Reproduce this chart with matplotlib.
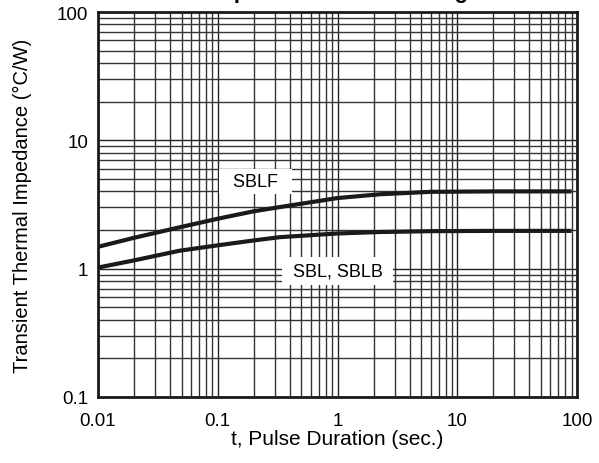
import numpy as np
import matplotlib.pyplot as plt

plt.rcParams['font.family'] = ['Liberation Sans', 'DejaVu Sans']

# pulse duration (s) and impedance (C/W)
t_sblf = [0.01, 0.02, 0.048, 0.1, 0.2, 0.33, 1.0, 2.26, 6.0, 20.0, 90.0]
z_sblf = [1.48, 1.74, 2.1, 2.45, 2.8, 3.02, 3.55, 3.8, 3.97, 4.0, 4.0]

t_sbl = [0.01, 0.02, 0.048, 0.1, 0.2, 0.33, 1.0, 2.26, 6.0, 20.0, 90.0]
z_sbl = [1.02, 1.16, 1.38, 1.52, 1.66, 1.76, 1.88, 1.93, 1.96, 1.97, 1.97]

xticks = [0.01, 0.1, 1, 10, 100]
xlabels = ['0.01', '0.1', '1', '10', '100']
yticks = [0.1, 1, 10, 100]
ylabels = ['0.1', '1', '10', '100']

fig = plt.figure(figsize=(5.99, 4.64), dpi=100)
ax = fig.add_axes([98/599, 1-398/464, 479/599, 385/464])
ax.set_xscale('log')
ax.set_yscale('log')
ax.set_xlim(0.01, 100)
ax.set_ylim(0.1, 100)

# grid: every 1..9 line in each decade
for d in range(-2, 2):
    for k in range(1, 10):
        v = k * 10.0**d
        ax.axvline(v, color='#222222' if k == 1 else '#333333', lw=1.0, zorder=1)
for d in range(-1, 2):
    for k in range(1, 10):
        v = k * 10.0**d
        ax.axhline(v, color='#222222' if k == 1 else '#333333', lw=1.0, zorder=1)

ax.plot(t_sblf, z_sblf, color='#1a1a1a', lw=3, zorder=3, solid_capstyle='butt')
ax.plot(t_sbl, z_sbl, color='#1a1a1a', lw=3, zorder=3, solid_capstyle='butt')

ax.text(0.208, 4.8, '  SBLF  ', fontsize=13, ha='center', va='center', zorder=4,
        bbox=dict(facecolor='white', edgecolor='none', pad=3))
ax.text(1.0, 0.96, ' SBL, SBLB ', fontsize=13, ha='center', va='center', zorder=4,
        bbox=dict(facecolor='white', edgecolor='none', pad=4))

ax.set_xticks(xticks)
ax.set_xticklabels(xlabels)
ax.set_yticks(yticks)
ax.set_yticklabels(ylabels)
ax.minorticks_off()
ax.tick_params(length=0, labelsize=13.5)
ax.tick_params(axis='x', pad=10.5)
ax.tick_params(axis='y', pad=7)
for s in ax.spines.values():
    s.set_linewidth(2)
    s.set_color('#1a1a1a')

ax.set_xlabel('t, Pulse Duration (sec.)', fontsize=15, labelpad=0)
ax.set_ylabel('Transient Thermal Impedance (\u00b0C/W)', fontsize=14.5, labelpad=18)
fig.text(338/599, 1 + 1.5/464, 'Impedance Curve Rating', fontsize=16,
         fontweight='bold', ha='center', va='baseline')

fig.savefig('out.png', dpi=100)
